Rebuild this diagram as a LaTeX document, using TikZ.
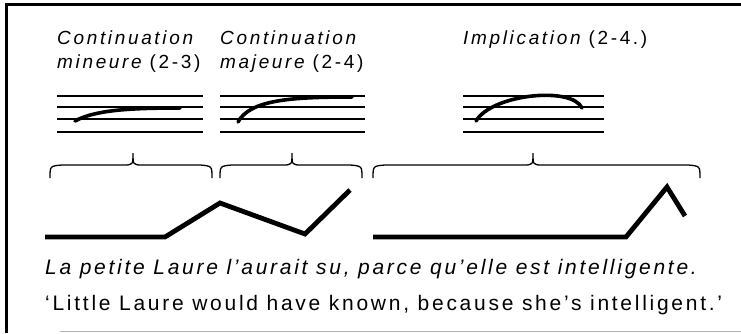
\documentclass[tikz,border=0pt]{standalone}
\usepackage{fontspec}
\setmainfont{Liberation Sans}
\newfontfamily\labelfont[LetterSpace=14]{Liberation Sans}
\newfontfamily\sentfont[LetterSpace=13]{Liberation Sans}
\usepackage{tikz}

\begin{document}
\begin{tikzpicture}[x=1pt,y=-1pt,
    lbl/.style={anchor=base west,inner sep=0pt,font=\labelfont\fontsize{19}{22}\selectfont},
    sent/.style={anchor=base west,inner sep=0pt,font=\sentfont\fontsize{21}{24}\selectfont},
    staff/.style={line width=1.5pt},
    contour/.style={line width=3.6pt,line cap=round},
    tune/.style={line width=4.8pt,line join=miter},
    brace/.style={line width=1.3pt}]
  \useasboundingbox (0,0) rectangle (741,333);
  % frame
  \draw[line width=3pt] (6,333) -- (6,4.5) -- (741,4.5);
  \draw[line width=0.8pt,gray!60] (60,331) -- (741,331);
  % labels
  \node[lbl] (cmin) at (57,44) {\itshape Continuation};
  \node[lbl] (cmin2) at (57,68) {\itshape mineure \upshape(2-3)};
  \node[lbl] (cmaj) at (220,44) {\itshape Continuation};
  \node[lbl] (cmaj2) at (220,68) {\itshape majeure \upshape(2-4)};
  \node[lbl] (impl) at (463,44) {\itshape Implication \upshape(2-4.)};
  % staves
  \foreach \xa/\xb in {57/203,220/365,463/604} {
    \foreach \y in {96,107,119,132}
      \draw[staff] (\xa,\y) -- (\xb,\y);
  }
  \draw[contour] (75,121) .. controls (95,110) and (130,108) .. (180,108);
  \draw[contour] (238,122) .. controls (250,100) and (290,97) .. (352,97);
  \draw[contour] (476,121) .. controls (492,94) and (572,86) .. (582,108);
  % braces
  \foreach \xa/\xm/\xb in {50/133/212,220/292/362,373/533/700} {
    \draw[brace] (\xa,178) .. controls (\xa,166) .. (\xa+12,165) -- (\xm-10,165)
      .. controls (\xm,165) .. (\xm,153) .. controls (\xm,165) .. (\xm+10,165)
      -- (\xb-12,165) .. controls (\xb,166) .. (\xb,178);
  }
  % intonation lines
  \draw[tune] (45,237) -- (165,237) -- (220,203) -- (305,234) -- (350,190);
  \draw[tune] (373,237) -- (626,237) -- (667,187) -- (685,216);
  % sentences
  \node[sent] (fr) at (45,274) {\itshape La petite Laure l’aurait su, parce qu’elle est intelligente.};
  \node[sent] (en) at (45,310) {‘Little Laure would have known, because she’s intelligent.’};
\end{tikzpicture}
\end{document}
